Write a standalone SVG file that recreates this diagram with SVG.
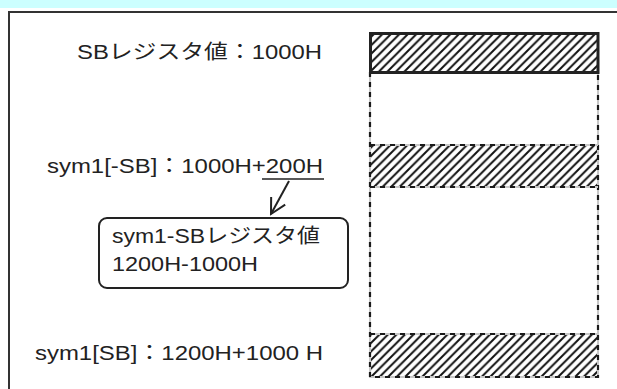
<svg xmlns="http://www.w3.org/2000/svg" width="617" height="389" viewBox="0 0 617 389">
<style>
.t{font-family:"Liberation Sans","Noto Sans CJK JP",sans-serif;font-size:20px;fill:#222}
.dbase{fill:none;stroke:#c8c8c8;stroke-width:2}
.dash{fill:none;stroke:#1a1a1a;stroke-width:2.2;stroke-dasharray:5 5}
</style>
<defs>
<pattern id="hatch" patternUnits="userSpaceOnUse" width="8.5" height="8.5">
<path d="M0,8.5 L8.5,0 M-2,2 L2,-2 M6.5,10.5 L10.5,6.5" stroke="#111" stroke-width="2"/>
</pattern>
<marker id="arr" markerWidth="20" markerHeight="20" refX="17" refY="10" orient="auto" markerUnits="userSpaceOnUse">
<path d="M2,2 L17,10 L2,18" fill="none" stroke="#222" stroke-width="2"/>
</marker>
</defs>
<rect x="0" y="0" width="617" height="8" fill="#ccffff"/>
<path d="M9,389 V12 H617" fill="none" stroke="#333" stroke-width="2"/>
<g id="memory">
<rect x="370" y="145" width="228" height="42" fill="url(#hatch)"/>
<rect x="370" y="334" width="228" height="43" fill="url(#hatch)"/>
<rect x="370" y="73" width="228" height="304" class="dbase"/>
<rect x="370" y="73" width="228" height="304" class="dash"/>
<path d="M370,145 H598 M370,187 H598 M370,334 H598" class="dbase"/>
<path d="M370,145 H598 M370,187 H598 M370,334 H598" class="dash"/>
<rect x="370.5" y="33.5" width="227.5" height="39" fill="url(#hatch)" stroke="#222" stroke-width="3"/>
</g>
<g id="label-sb">
<text class="t" x="77" y="59" textLength="245" lengthAdjust="spacingAndGlyphs">SBレジスタ値：1000H</text>
</g>
<g id="label-sym1-minus">
<text class="t" x="47" y="173" textLength="276" lengthAdjust="spacingAndGlyphs">sym1[-SB]：1000H+200H</text>
<line x1="262" y1="179" x2="324" y2="179" stroke="#222" stroke-width="1.5"/>
</g>
<g id="connectors">
<line x1="289" y1="181" x2="271" y2="214" stroke="#222" stroke-width="2" marker-end="url(#arr)"/>
</g>
<g id="note">
<rect x="99" y="218" width="249" height="70" rx="8" ry="8" fill="#fff" stroke="#222" stroke-width="2"/>
<text class="t" x="112" y="243" textLength="208" lengthAdjust="spacingAndGlyphs">sym1-SBレジスタ値</text>
<text class="t" x="112" y="271" textLength="146" lengthAdjust="spacingAndGlyphs">1200H-1000H</text>
</g>
<g id="label-sym1">
<text class="t" x="35" y="360" textLength="288" lengthAdjust="spacingAndGlyphs">sym1[SB]：1200H+1000 H</text>
</g>
</svg>
